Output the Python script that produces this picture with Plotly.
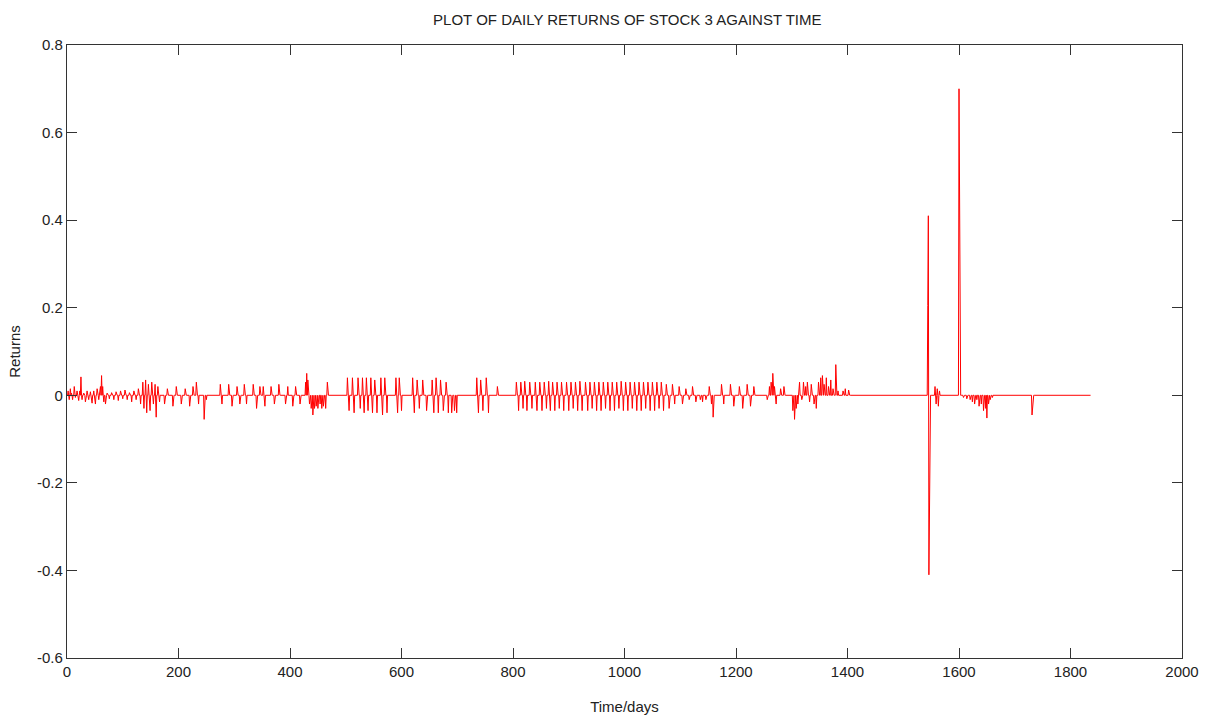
import plotly.graph_objects as go

# ---- data ----
n_days = 1836  # series runs from day 0 to ~1836

event_days = [
    2, 4, 6, 8, 10, 13, 15, 18, 21, 23, 25, 27, 30, 33, 36, 39, 42, 45, 48, 51, 54, 57, 60, 62, 64, 66, 69,
    72, 76, 80, 84, 88, 92, 96, 100, 104, 108, 112, 116, 120, 124, 128, 132, 136,
    138, 141, 143, 146, 149, 152, 155, 158, 160, 163, 166,
    175, 180, 190, 196, 205, 212, 220, 226, 232, 236, 246, 250,
    275, 278, 290, 296, 305, 310, 318, 322, 334, 340, 346, 352, 355, 366, 372, 380, 392, 396, 405, 410, 418,
    428, 430, 432, 435, 438, 441, 444, 447, 450, 454, 457, 460, 464, 467,
    503, 506, 512, 515, 522, 526, 530, 533, 537, 540, 545, 548, 552, 556, 563, 566, 570, 574, 590, 593, 596, 600,
    620, 623, 628, 632, 638, 645, 655, 658, 662, 666, 670, 675, 680, 684, 690, 695, 699,
    735, 738, 742, 746, 752, 756, 772,
    806, 810, 814, 818, 821, 825, 830, 834, 840, 843, 848, 852, 856, 860, 864, 867, 871, 875, 879, 883, 887, 891,
    896, 900, 904, 908, 912, 916, 920, 924, 930, 934, 938, 942, 946, 950, 954, 958, 962, 966, 970, 974, 978, 982,
    986, 990, 994, 998, 1002, 1006, 1010, 1014, 1018, 1022, 1026, 1030, 1034, 1038, 1042, 1046, 1050, 1054, 1058,
    1062, 1066, 1070, 1075, 1080, 1086, 1090,
    1098, 1104, 1110, 1116, 1122, 1128,
    1136, 1140, 1146, 1152, 1156, 1159,
    1174, 1178, 1190, 1196, 1206, 1212, 1220, 1226, 1232,
    1256, 1260, 1263, 1266, 1269, 1272, 1280, 1286,
    1302, 1305, 1308, 1311,
    1314, 1318, 1321, 1325, 1328, 1332, 1335, 1340, 1344, 1348, 1352, 1355, 1358, 1362, 1366, 1370, 1374, 1379, 1383,
    1392, 1396, 1402,
    1544, 1545, 1546, 1547,
    1557, 1559, 1561, 1563, 1565,
    1600, 1601,
    1608, 1614, 1620, 1624, 1628, 1632, 1636, 1640, 1644, 1648, 1650, 1653, 1656, 1660,
    1731, 1732,
]

event_returns = [
    0.01, -0.01, 0.015, 0.005, -0.01, 0.02, -0.005, 0.01, -0.012, 0.01, 0.042, -0.01, 0.005, -0.015, 0.01, -0.01,
    0.008, -0.018, 0.01, -0.02, 0.015, -0.01, 0.02, 0.045, 0.02, -0.015, -0.02,
    0.005, -0.008, 0.006, -0.01, 0.008, -0.012, 0.01, -0.008, 0.012, -0.01, 0.006, -0.015, 0.01, -0.01, 0.015, -0.02, 0.03,
    -0.03, 0.035, -0.04, 0.025, -0.035, 0.03, -0.02, 0.025, -0.05, 0.02, -0.015,
    -0.02, 0.015, -0.025, 0.02, -0.02, 0.015, -0.025, 0.02, 0.03, -0.02, -0.055, -0.01,
    0.025, -0.02, 0.025, -0.025, 0.02, -0.02, 0.025, -0.02, 0.025, -0.03, 0.02, 0.02, -0.025, 0.02, -0.02, 0.025,
    -0.02, 0.02, -0.025, 0.02, -0.02,
    0.03, 0.05, 0.035, -0.02, -0.03, -0.045, -0.03, -0.025, -0.03, -0.02, -0.03, -0.025, -0.03, 0.03,
    0.04, -0.035, 0.04, -0.04, 0.04, -0.03, 0.04, -0.04, 0.04, -0.035, 0.04, -0.04, 0.035, -0.04, 0.04, -0.045,
    0.04, -0.04, 0.04, -0.04, 0.04, -0.035,
    0.04, -0.04, 0.035, -0.03, 0.035, -0.035, 0.035, -0.04, 0.04, -0.04, 0.035, -0.035, 0.03, -0.04, -0.04, -0.035, -0.04,
    0.04, -0.04, 0.035, -0.035, 0.04, -0.04, 0.02,
    0.03, -0.035, 0.03, -0.03, 0.032, -0.035, 0.03, -0.03, 0.03, -0.035, 0.03, -0.035, 0.03, -0.03, 0.032, -0.035,
    0.03, -0.035, 0.03, -0.03, 0.03, -0.035,
    0.03, -0.035, 0.03, -0.03, 0.03, -0.035, 0.032, -0.035, 0.03, -0.035, 0.03, -0.03, 0.03, -0.035, 0.03, -0.035,
    0.03, -0.03, 0.03, -0.035, 0.03, -0.035,
    0.03, -0.03, 0.032, -0.035, 0.03, -0.035, 0.03, -0.03, 0.03, -0.035, 0.03, -0.035, 0.03, -0.03, 0.03, -0.035,
    0.03, -0.035, 0.03,
    -0.03, 0.03, -0.035, 0.025, -0.03, 0.025, -0.02,
    0.02, -0.02, 0.015, -0.01, 0.02, -0.015,
    -0.01, -0.015, -0.01, 0.02, -0.02, -0.05,
    0.025, -0.02, 0.025, -0.025, 0.02, -0.03, 0.025, -0.025, 0.02,
    -0.01, 0.02, 0.03, 0.05, 0.02, -0.02, 0.015, 0.02,
    -0.035, -0.055, -0.03, -0.02,
    0.03, -0.01, 0.03, 0.02, 0.03, -0.015, 0.025, -0.02, -0.03, 0.03, 0.04, 0.045, 0.025, 0.04, 0.02, 0.035, 0.015,
    0.07, 0.01,
    0.01, 0.015, 0.012,
    0.205, 0.41, -0.41, -0.205,
    0.02, -0.02, 0.015, -0.025, 0.01,
    0.7, 0.35,
    -0.005, -0.008, -0.01, -0.015, -0.02, -0.01, -0.025, -0.02, -0.035, -0.03, -0.052, -0.02, -0.01, -0.005,
    -0.045, -0.02,
]

x_tick_vals = [0, 200, 400, 600, 800, 1000, 1200, 1400, 1600, 1800, 2000]
x_tick_text = ["0", "200", "400", "600", "800", "1000", "1200", "1400", "1600", "1800", "2000"]
y_tick_vals = [-0.6, -0.4, -0.2, 0, 0.2, 0.4, 0.6, 0.8]
y_tick_text = ["-0.6", "-0.4", "-0.2", "0", "0.2", "0.4", "0.6", "0.8"]

# full daily series: zero except on the listed days
days = list(range(n_days + 1))
returns = [0.0] * (n_days + 1)
for d, r in zip(event_days, event_returns):
    returns[d] = r

FONT = "Liberation Sans Narrow, Arial Narrow, Liberation Sans, Arial, sans-serif"

fig = go.Figure()
fig.add_trace(go.Scatter(
    x=days, y=returns, mode="lines",
    line=dict(color="#ff0000", width=1),
    showlegend=False, hoverinfo="x+y",
))

axis_common = dict(
    showgrid=False, zeroline=False, showline=True, mirror="ticks",
    linecolor="#333333", linewidth=1.2,
    ticks="inside", ticklen=10, tickcolor="#333333", tickwidth=1,
    tickfont=dict(family=FONT, size=15, color="#222222"),
)

fig.update_layout(
    width=1211, height=725,
    margin=dict(l=67, r=21, t=45, b=65),
    paper_bgcolor="white", plot_bgcolor="white",
    title=dict(
        text="PLOT OF DAILY RETURNS OF STOCK 3 AGAINST TIME",
        x=0.518, xanchor="center", y=0.973, yanchor="middle",
        font=dict(family=FONT, size=15, color="#222222"),
    ),
    xaxis=dict(
        range=[0, 2000], tickmode="array", tickvals=x_tick_vals, ticktext=x_tick_text,
        title=dict(text="Time/days", font=dict(family=FONT, size=15, color="#222222"), standoff=22),
        **axis_common,
    ),
    yaxis=dict(
        range=[-0.6, 0.8], tickmode="array", tickvals=y_tick_vals, ticktext=y_tick_text,
        title=dict(text="Returns", font=dict(family="Liberation Sans, Arial, sans-serif", size=15, color="#222222"), standoff=12),
        **axis_common,
    ),
)

fig.write_html("out.html")
